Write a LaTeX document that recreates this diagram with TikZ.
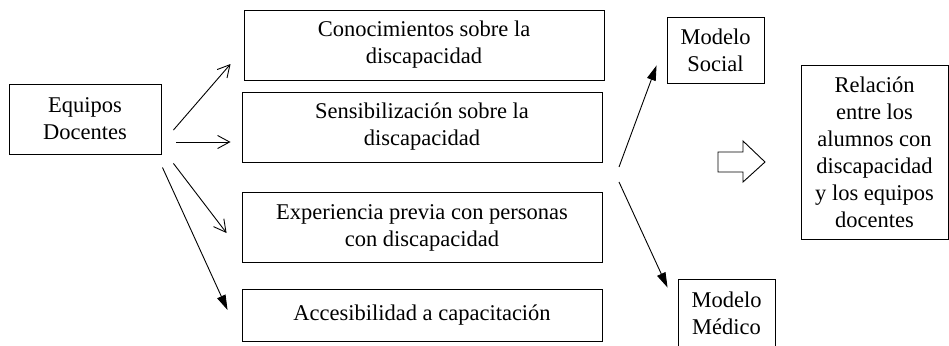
\documentclass[tikz,border=0pt]{standalone}
\usepackage{fontspec}
\setmainfont{Liberation Serif}
\usetikzlibrary{arrows.meta}

\begin{document}
\begin{tikzpicture}
	[x=1pt, y=-1pt, line width=0.9pt,
	main/.style = {draw, rectangle, align=center, inner sep=0pt, font=\fontsize{22.5}{27}\selectfont},
	open/.style = {-{Straight Barb[length=12pt,width=13pt]}},
	full/.style = {-{Triangle[length=15pt,width=9pt]}}]
	\clip (0,0) rectangle (949,345);
	\node[main, minimum width=152pt, minimum height=70pt] (1) at (85,119) {Equipos\\Docentes};
	\node[main, minimum width=360pt, minimum height=70pt] (2) at (424,45) {Conocimientos sobre la\\discapacidad};
	\node[main, minimum width=360pt, minimum height=70pt] (3) at (422,127) {Sensibilización sobre la\\discapacidad};
	\node[main, minimum width=360pt, minimum height=70pt] (4) at (422,227.5) {Experiencia previa con personas\\con discapacidad};
	\node[main, minimum width=360pt, minimum height=52pt] (5) at (422,315) {Accesibilidad a capacitación};
	\node[main, minimum width=97pt, minimum height=66pt] (6) at (715.5,50) {Modelo\\Social};
	\node[main, minimum width=97pt, minimum height=68pt] (7) at (726.5,313) {Modelo\\Médico};
	\node[main, minimum width=147pt, minimum height=174pt] (8) at (874.5,152) {Relación\\entre los\\alumnos con\\discapacidad\\y los equipos\\docentes};
	\coordinate (a) at (619,167);
	\coordinate (b) at (619,182);
	\draw[open] ([xshift=12pt,yshift=-11pt]1.east) -- ([xshift=-13pt,yshift=-19pt]2.west);
	\draw[open] ([xshift=15pt,yshift=-23pt]1.east) -- ([xshift=-11pt,yshift=-15pt]3.west);
	\draw[open] ([xshift=12pt,yshift=-9pt]1.south east) -- ([xshift=-15pt,yshift=-5.5pt]4.west);
	\draw[full] ([xshift=1pt,yshift=-13pt]1.south east) -- ([xshift=-14pt,yshift=5pt]5.west);
	\draw[full] (a) -- ([xshift=-10pt,yshift=18pt]6.south west);
	\draw[full] (b) -- ([xshift=-10pt,yshift=-9pt]7.north west);
	% hollow arrow
	\draw (718,152) -- (743,152) -- (743,141) -- (765,162) -- (743,182) -- (743,172) -- (718,172) -- cycle;
\end{tikzpicture}
\end{document}
